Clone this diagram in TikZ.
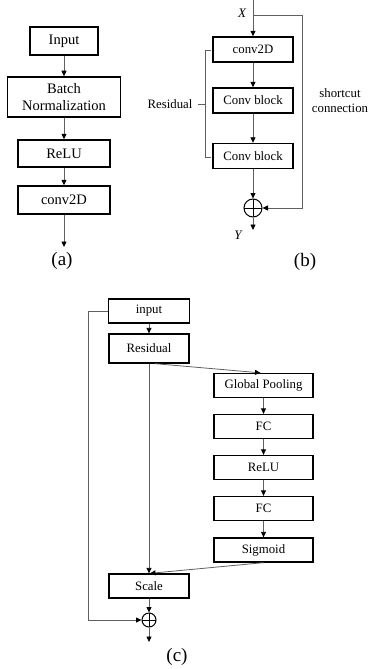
\documentclass[tikz,border=0pt]{standalone}
\usepackage{fontspec}
\setmainfont{Liberation Serif}
\usetikzlibrary{arrows.meta}
\begin{document}
\begin{tikzpicture}[x=1pt,y=-1pt,
  boxa/.style={draw, line width=1.5pt, inner sep=0pt, font=\fontsize{14.5}{17}\selectfont},
  boxb/.style={draw, line width=1.4pt, inner sep=0pt, minimum width=80pt, minimum height=25pt, font=\fontsize{12.8}{14}\selectfont},
  boxc/.style={draw, line width=1.3pt, inner sep=0pt, minimum width=80pt, minimum height=24pt, font=\fontsize{12.8}{14}\selectfont},
  boxd/.style={draw, line width=1.3pt, inner sep=0pt, minimum width=99pt, minimum height=24pt, font=\fontsize{12.8}{14}\selectfont},
  txt/.style={inner sep=0pt, font=\fontsize{12.8}{15}\selectfont},
  itxt/.style={inner sep=0pt, font=\fontsize{13}{15}\selectfont\itshape},
  lab/.style={inner sep=0pt, font=\fontsize{19}{21}\selectfont},
  conn/.style={draw=gray!75!black, line width=0.8pt, -{Triangle[length=5.5pt,width=5pt,color=black]}},
  plain/.style={draw=gray!75!black, line width=0.8pt},
  plus/.style={circle, draw, line width=1pt, inner sep=0pt, minimum size=#1,
    path picture={\draw[line width=0.9pt] (path picture bounding box.north) -- (path picture bounding box.south)
      (path picture bounding box.west) -- (path picture bounding box.east);}}
]
\useasboundingbox (0,0) rectangle (368,669);

% ---------- (a)
\node[boxa, minimum width=68pt, minimum height=28pt] (ainput) at (64,41) {Input};
\node[boxa, minimum width=113pt, minimum height=40pt, align=center] (abn) at (64,97) {Batch\\Normalization};
\node[boxa, minimum width=92pt, minimum height=27pt] (arelu) at (64,153.5) {ReLU};
\node[boxa, minimum width=92pt, minimum height=28pt] (aconv) at (64,200) {conv2D};
\coordinate (aend) at (64,247);
\draw[conn] (ainput) -- (abn);
\draw[conn] (abn) -- (arelu);
\draw[conn] (arelu) -- (aconv);
\draw[conn] (aconv) -- (aend);
\node[lab] (alab) at (62,261) {(a)};

% ---------- (b)
\coordinate (xtop) at (253,0);
\coordinate (bsplit) at (253,15);
\node[itxt] (xlab) at (242,13) {X};
\node[boxb] (bconv) at (253,49.5) {conv2D};
\node[boxb] (bcb1) at (253,100.5) {Conv block};
\node[boxb] (bcb2) at (253,156) {Conv block};
\node[plus=18pt] (bsum) at (253,208) {};
\coordinate (bend) at (253,230);
\coordinate (bsc1) at (302,15);
\coordinate (bsc2) at (302,208);
\draw[conn] (xtop) -- (bconv);
\draw[conn] (bconv) -- (bcb1);
\draw[conn] (bcb1) -- (bcb2);
\draw[conn] (bcb2) -- (bsum);
\draw[conn] (bsum) -- (bend);
\draw[conn] (bsplit) -- (bsc1) -- (bsc2) -- (bsum);
% bracket
\coordinate (bk1) at (211,50);
\coordinate (bk2) at (205,50);
\coordinate (bk3) at (205,157);
\coordinate (bk4) at (211,157);
\coordinate (bk5) at (205,104);
\coordinate (bk6) at (198,104);
\draw[plain] (bk1) -- (bk2) -- (bk3) -- (bk4);
\draw[plain] (bk5) -- (bk6);
\node[txt] (bres) at (170,104) {Residual};
\node[txt, align=center] (bshort) at (340,101) {shortcut\\connection};
\node[itxt] (ylab) at (238,235) {Y};
\node[lab] (blab) at (305,262) {(b)};

% ---------- (c)
\node[boxc, minimum width=81pt] (cin) at (149,311) {input};
\node[boxc, minimum height=29pt] (cres) at (149,348.5) {Residual};
\node[boxd] (cgp) at (263.5,385.5) {Global Pooling};
\node[boxd] (cfc1) at (263.5,426.5) {FC};
\node[boxd] (crelu) at (263.5,467.5) {ReLU};
\node[boxd] (cfc2) at (263.5,508.5) {FC};
\node[boxd] (csig) at (263.5,550) {Sigmoid};
\node[boxc] (cscale) at (149,586) {Scale};
\node[plus=14pt] (csum) at (149,620) {};
\coordinate (cend) at (149,642);
\coordinate (cl1) at (88,311);
\coordinate (cl2) at (88,620);
\draw[conn] (cin) -- (cres);
\draw[conn] (cres) -- (cscale);
\draw[conn] ([xshift=6pt]cres.south) -- ([xshift=-3pt]cgp.north);
\draw[conn] (cgp) -- (cfc1);
\draw[conn] (cfc1) -- (crelu);
\draw[conn] (crelu) -- (cfc2);
\draw[conn] (cfc2) -- (csig);
\draw[conn] (csig.south) -- ([xshift=1pt]cscale.north);
\draw[conn] (cscale) -- (csum);
\draw[conn] (csum) -- (cend);
\draw[conn] (cin.west) -- (cl1) -- (cl2) -- (csum);
\node[lab] (clab) at (177,657) {(c)};
\end{tikzpicture}
\end{document}
